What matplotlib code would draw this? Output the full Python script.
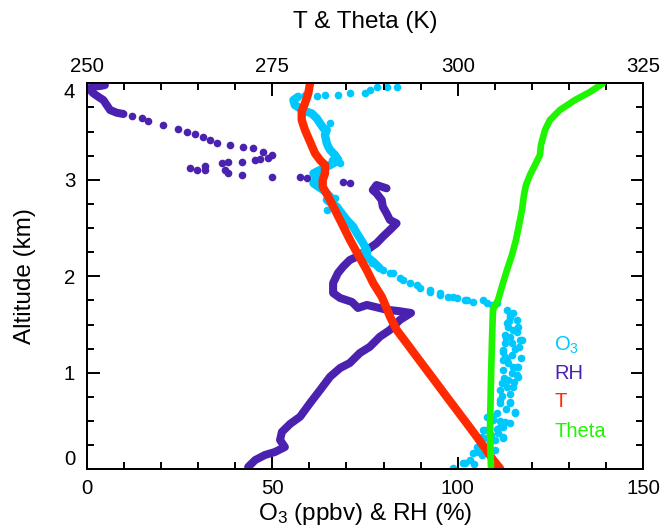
import matplotlib
matplotlib.use('Agg')
import matplotlib.pyplot as plt
import numpy as np
from matplotlib.ticker import MultipleLocator

plt.rcParams['font.family'] = ['Liberation Sans', 'DejaVu Sans']
plt.rcParams['mathtext.fontset'] = 'custom'
plt.rcParams['mathtext.rm'] = 'Liberation Sans'

nan = np.nan

# RH (%) - continuous stretches (nan = break) and isolated dots
rh_band_val = [43.5, 45.4, 48.0, 50.7, 53.4, 52.1, 52.6, 54.8, 57.5, 60.2, 62.9, 65.6, 68.3, 70.9,
               73.6, 76.3, 79.0, 81.7, 84.4, 87.4, 84.0, 80.9, 75.5, 73.1, 71.5, 68.3, 66.4, 66.4,
               67.7, 69.1, 70.9, 72.8, 75.5, 78.1, 79.8, 81.7, 83.5, 81.7, 80.8, 79.8, 79.5, 78.1,
               77.1, 78.1, 80.8, nan, 9.9, 8.1, 6.3, 5.4, 4.5, 3.1, 1.8, 0.9, 1.3, 3.6, 4.9]
rh_band_alt = [0.024, 0.096, 0.148, 0.179, 0.231, 0.304, 0.387, 0.470, 0.545, 0.687, 0.822, 0.960,
               1.050, 1.102, 1.205, 1.270, 1.374, 1.444, 1.548, 1.620, 1.640, 1.653, 1.703, 1.672,
               1.734, 1.775, 1.827, 1.930, 2.034, 2.100, 2.169, 2.203, 2.272, 2.342, 2.410, 2.480,
               2.549, 2.584, 2.653, 2.721, 2.791, 2.860, 2.894, 2.946, 2.912, nan, 3.682, 3.695,
               3.723, 3.774, 3.826, 3.861, 3.896, 3.931, 3.965, 3.972, 3.982]
rh_dot_val = [70.9, 69.1, 59.3, 57.5, 49.9, 41.8, 38.2, 37.3, 29.6, 27.8, 32.0, 31.9, 36.4, 38.2,
              41.8, 45.4, 46.7, 48.9, 49.9, 47.6, 44.9, 42.2, 38.6, 35.0, 33.2, 31.4, 29.2, 26.9,
              24.7, 20.6, 16.6, 14.8, 12.1]
rh_dot_alt = [2.964, 2.980, 3.016, 3.026, 3.032, 3.050, 3.067, 3.102, 3.102, 3.119, 3.100, 3.143,
              3.171, 3.188, 3.188, 3.205, 3.212, 3.223, 3.257, 3.291, 3.326, 3.343, 3.361, 3.385,
              3.412, 3.440, 3.474, 3.498, 3.523, 3.568, 3.612, 3.637, 3.664]

# O3 (ppbv)
o3_band_val = [57.0, 55.7, 56.1, 57.5, 59.3, 60.6, 62.0, 62.9, 63.8, 64.7, 64.2, 64.7, 65.1, 65.6,
               66.9, 67.8, 66.5, 64.7, 62.9, 61.1, 62.0, 61.1, 62.4, 63.8, 65.6, 64.7, 67.4, 68.7,
               70.1, 71.8, 72.8, 74.5, 75.5, 75.5, 77.2, 79.0]
o3_band_alt = [3.861, 3.826, 3.774, 3.741, 3.706, 3.689, 3.637, 3.585, 3.534, 3.516, 3.464, 3.378,
               3.343, 3.309, 3.257, 3.205, 3.171, 3.136, 3.102, 3.067, 3.016, 2.964, 2.928, 2.894,
               2.825, 2.791, 2.721, 2.653, 2.583, 2.514, 2.446, 2.342, 2.272, 2.203, 2.151, 2.083]
o3_dot_val = [83.5, 80.8, 78.1, 76.3, 75.0, 70.9, 67.8, 64.2, 62.0, 58.8,
              65.6, 66.0, 68.3, 63.3, 66.9, 64.7, 74.5, 76.8,
              79.9, 81.7, 82.6, 84.4, 85.3, 87.1, 88.9, 89.8, 92.5, 92.5, 95.2, 95.2, 97.4, 98.8,
              99.7, 101.9, 102.4, 104.2, 106.9, 107.8, 109.1, 110.5,
              113.2, 115.0, 115.9, 113.6, 116.3, 112.7, 117.2, 114.5, 112.3, 114.5, 113.2, 116.3,
              112.3, 115.9, 113.6, 111.4, 113.2, 114.1, 115.4, 111.4, 110.5, 109.6, 112.3, 110.9,
              112.3, 110.0, 107.8, 106.9, 106.0, 107.3, 106.4, 105.1, 104.2, 103.3, 101.5, 98.8,
              101.9, 105.5, 107.8, 111.4, 112.7, 112.3, 114.1, 116.3, 115.9, 115.0, 112.3, 112.3,
              112.7, 114.1, 116.8, 115.0, 113.2, 114.1, 111.8, 111.4, 109.6, 115.4,
              114.0, 116.0, 113.0, 115.5, 113.5, 117.0, 114.5, 112.5, 115.0, 112.0, 114.0, 113.0,
              111.5, 114.0, 110.5, 109.0, 108.5, 106.5, 104.5, 110.0, 116.5, 113.8, 115.2, 112.8]
o3_dot_alt = [3.959, 3.965, 3.965, 3.931, 3.903, 3.896, 3.879, 3.879, 3.868, 3.879,
              3.585, 3.205, 3.171, 3.067, 2.808, 2.687, 2.255, 2.135,
              2.065, 2.031, 2.031, 1.979, 1.962, 1.927, 1.910, 1.876, 1.858, 1.840, 1.824, 1.806,
              1.789, 1.789, 1.772, 1.754, 1.754, 1.737, 1.754, 1.720, 1.703, 1.720,
              1.653, 1.617, 1.547, 1.478, 1.478, 1.392, 1.340, 1.306, 1.219, 1.184, 1.133, 1.063,
              1.029, 0.977, 0.926, 0.822, 0.856, 0.701, 0.597, 0.684, 0.580, 0.511, 0.441, 0.373,
              0.321, 0.304, 0.545, 0.407, 0.304, 0.407, 0.338, 0.234, 0.166, 0.096, 0.062, 0.010,
              0.062, 0.182, 0.321, 0.441, 0.493, 0.338, 0.684, 0.960, 1.063, 1.063, 1.133, 1.236,
              1.306, 1.374, 1.340, 1.443, 1.513, 1.581, 0.891, 0.718, 0.545, 0.580,
              1.600, 1.420, 1.360, 1.250, 1.100, 1.150, 1.000, 0.950, 0.850, 0.760, 0.780, 0.620,
              0.500, 0.480, 0.420, 0.360, 0.250, 0.150, 0.050, 0.200, 1.270, 1.540, 0.900, 1.160]

# T (K)
t_val = [280.09, 279.86, 279.41, 278.97, 278.97, 279.41, 280.09, 280.76, 281.43, 282.11, 282.11,
         281.80, 281.80, 282.55, 283.46, 284.36, 285.48, 286.59, 287.73, 288.62, 289.75, 290.42,
         290.87, 291.77, 293.12, 294.46, 295.81, 297.16, 298.50, 299.85, 301.20, 302.55, 303.67,
         304.78, 305.69]
t_alt = [4.000, 3.896, 3.793, 3.706, 3.620, 3.516, 3.395, 3.275, 3.205, 3.153, 3.067, 2.998,
         2.928, 2.825, 2.687, 2.549, 2.376, 2.221, 2.065, 1.927, 1.789, 1.668, 1.581, 1.444,
         1.306, 1.167, 1.029, 0.891, 0.752, 0.615, 0.477, 0.338, 0.218, 0.096, 0.010]

# Theta (K)
theta_val = [319.56, 317.81, 315.79, 313.77, 312.42, 311.75, 311.21, 311.07, 310.40, 309.73,
             309.19, 308.92, 308.65, 308.25, 307.84, 307.30, 306.63, 306.09, 305.42, 304.74,
             304.61, 304.47, 304.34, 304.47]
theta_alt = [4.000, 3.910, 3.827, 3.724, 3.620, 3.516, 3.361, 3.257, 3.153, 3.050, 2.946, 2.843,
             2.687, 2.531, 2.376, 2.221, 2.065, 1.930, 1.754, 1.651, 1.340, 0.926, 0.407, 0.024]

c_o3 = '#00C8FF'
c_rh = '#4B22B0'
c_t = '#FF2A00'
c_th = '#1EF500'

fig = plt.figure(figsize=(6.65, 5.3), dpi=100)
ax = fig.add_axes([0.1304, 0.1145, 0.8370, 0.7283])

ax.plot(rh_band_val, rh_band_alt, '-', color=c_rh, lw=5.8, solid_capstyle='round', solid_joinstyle='round')
ax.plot(rh_dot_val, rh_dot_alt, 'o', color=c_rh, ms=5.5, mew=0)
ax.plot(o3_band_val, o3_band_alt, '-', color=c_o3, lw=6, solid_capstyle='round', solid_joinstyle='round')
ax.plot(o3_dot_val, o3_dot_alt, 'o', color=c_o3, ms=5.5, mew=0)

ax.set_xlim(0, 150)
ax.set_ylim(0, 4)
ax.set_xticks([0, 50, 100, 150])
ax.xaxis.set_minor_locator(MultipleLocator(10))
ax.set_yticks([0, 1, 2, 3, 4])
ax.yaxis.set_minor_locator(MultipleLocator(0.25))
ax.set_xlabel('$\\mathregular{O_3}$ (ppbv) & RH (%)', fontsize=17.5, labelpad=2)
ax.set_ylabel('Altitude (km)', fontsize=17.5, labelpad=20)

ax2 = ax.twiny()
ax2.plot(t_val, t_alt, '-', color=c_t, lw=6, solid_capstyle='round', solid_joinstyle='round')
ax2.plot(theta_val, theta_alt, '-', color=c_th, lw=4.8, solid_capstyle='round', solid_joinstyle='round')
ax2.set_xlim(250, 325)
ax2.set_xticks([250, 275, 300, 325])
ax2.xaxis.set_minor_locator(MultipleLocator(5))
ax2.set_xlabel('T & Theta (K)', fontsize=17.5, labelpad=21)

ax.tick_params(axis='both', which='both', direction='in', width=1.4)
ax.tick_params(which='major', length=9)
ax.tick_params(which='minor', length=5)
ax.tick_params(axis='x', which='both', top=False, labelsize=14.7, pad=7)
ax.tick_params(axis='y', which='both', right=True, labelsize=14.7, pad=8.3)
ax2.tick_params(axis='x', which='both', direction='in', width=1.4, labelsize=14.7, pad=5.3)
ax2.tick_params(axis='x', which='major', length=9)
ax2.tick_params(axis='x', which='minor', length=5)
for a in (ax, ax2):
    for s in a.spines.values():
        s.set_linewidth(1.4)

yt = ax.yaxis.get_major_ticks()
yt[0].label1.set_verticalalignment('bottom')
yt[-1].label1.set_verticalalignment('top')

# colour legend as text
ax.text(0.84, 0.322, '$\\mathregular{O_3}$', color=c_o3, fontsize=14.5, transform=ax.transAxes, va='center')
ax.text(0.84, 0.247, 'RH', color=c_rh, fontsize=14.5, transform=ax.transAxes, va='center')
ax.text(0.84, 0.175, 'T', color=c_t, fontsize=14.5, transform=ax.transAxes, va='center')
ax.text(0.84, 0.0974, 'Theta', color=c_th, fontsize=14.5, transform=ax.transAxes, va='center')

fig.savefig('out.png', dpi=100)
